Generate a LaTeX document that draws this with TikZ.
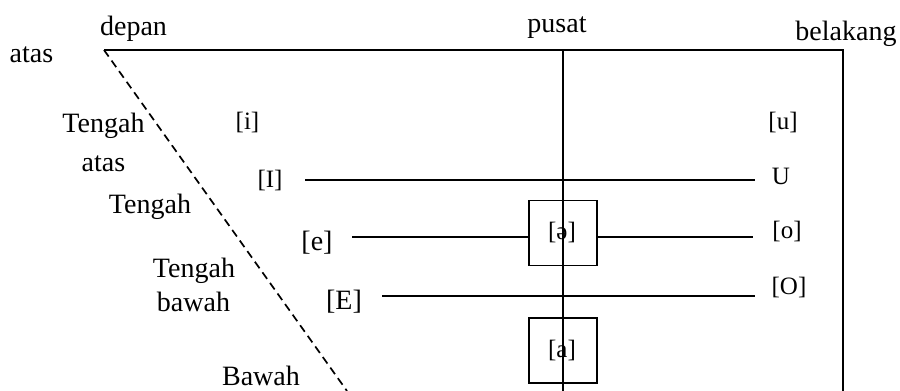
\documentclass[tikz,border=0pt]{standalone}
\usepackage{fontspec}
\setmainfont{Liberation Serif}
\begin{document}
\begin{tikzpicture}[x=1pt,y=-1pt,line width=2pt,
  word/.style={font=\fontsize{28}{30}\selectfont,inner sep=0pt,anchor=base},
  vow/.style={font=\fontsize{28}{30}\selectfont,inner sep=0pt},
  vows/.style={font=\fontsize{25}{27}\selectfont,inner sep=0pt},
  vbox/.style={draw,line width=1.6pt,minimum width=68pt,minimum height=65pt,inner sep=0pt}]
\useasboundingbox (0,0) rectangle (900,391);
% frame coordinates
\coordinate (tl) at (104,50);
\coordinate (tc) at (563,50);
\coordinate (tr) at (843,50);
\coordinate (bc) at (563,391);
\coordinate (br) at (843,391);
\coordinate (bd) at (347,391);
% axis labels
\node[word] (depan) at (133.5,35) {depan};
\node[word] (pusat) at (557,32) {pusat};
\node[word] (belakang) at (846,40) {belakang};
\node[word] (atas1) at (31.5,62) {atas};
\node[word] (tengah1) at (103.5,132) {Tengah};
\node[word] (atas2) at (103.5,171) {atas};
\node[word] (tengah2) at (150,213) {Tengah};
\node[word] (tengah3) at (194,277) {Tengah};
\node[word] (bawah1) at (193.5,311) {bawah};
\node[word] (bawah2) at (261,385) {Bawah};
% boxes
\node[vbox] (schwa) at (563,233) {};
\node[vbox] (abox) at (563,350.5) {};
% frame
\draw (tl) -- (tr) -- (br);
\draw[dash pattern=on 8pt off 5pt,line width=1.7pt] (tl) -- (bd);
% vowel labels
\node[vows] (i) at (247.5,122) {[i]};
\node[vows] (I) at (270,180) {[I]};
\node[vow] (e) at (317,243) {[e]};
\node[vow] (E) at (344,302) {[E]};
\node[vows] (u) at (783,122) {[u]};
\node[vows] (U) at (781,176) {U};
\node[vows] (o) at (787,231) {[o]};
\node[vows] (O) at (789,287) {[O]};
\node[vows] (schwat) at (562,232) {[ə]};
\node[vows] (at) at (562,350) {[a]};
% horizontal lines
\coordinate (l1a) at (305,180); \coordinate (l1b) at (755,180);
\coordinate (l2a) at (352,237); \coordinate (l2b) at (753,237);
\coordinate (l3a) at (382,296); \coordinate (l3b) at (755,296);
\draw (l1a) -- (l1b);
\draw (l2a) -- (schwa.west |- l2a);
\draw (schwa.east |- l2b) -- (l2b);
\draw (l3a) -- (l3b);
% central vertical
\draw (tc) -- (bc);
\end{tikzpicture}
\end{document}
